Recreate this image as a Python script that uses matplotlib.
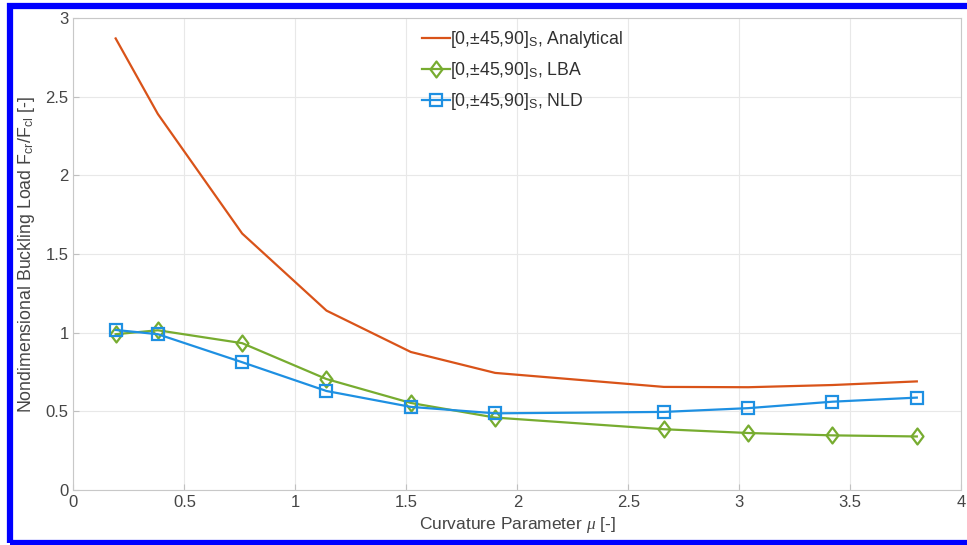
import matplotlib
matplotlib.use("Agg")
import matplotlib.pyplot as plt
from matplotlib.patches import Rectangle
from matplotlib.path import Path

mu = [0.19, 0.38, 0.76, 1.14, 1.52, 1.90, 2.66, 3.04, 3.42, 3.80]
analytical = [2.87, 2.39, 1.63, 1.14, 0.877, 0.744, 0.655, 0.653, 0.667, 0.69]
lba = [0.99, 1.015, 0.933, 0.705, 0.553, 0.46, 0.386, 0.362, 0.347, 0.34]
nld = [1.017, 0.99, 0.812, 0.629, 0.528, 0.487, 0.496, 0.52, 0.561, 0.587]

labels = [r"[0,$\pm$45,90]$_\mathrm{S}$, Analytical",
          r"[0,$\pm$45,90]$_\mathrm{S}$, LBA",
          r"[0,$\pm$45,90]$_\mathrm{S}$, NLD"]
xticks = [0, 0.5, 1, 1.5, 2, 2.5, 3, 3.5, 4]
yticks = [0, 0.5, 1, 1.5, 2, 2.5, 3]

plt.rcParams['font.family'] = ['Liberation Sans', 'DejaVu Sans']
plt.rcParams['mathtext.fontset'] = 'custom'
plt.rcParams['mathtext.rm'] = 'Liberation Sans'
plt.rcParams['mathtext.it'] = 'Liberation Serif:italic'
plt.rcParams['mathtext.bf'] = 'Liberation Sans:bold'

fig = plt.figure(figsize=(9.67, 5.45), dpi=100)
ax = fig.add_axes([0.076, 0.101, 0.918, 0.866])

c_an = '#D95319'
c_lba = '#77AC30'
c_nld = '#1E90E2'

diamond = Path([(0, 1), (0.75, 0), (0, -1), (-0.75, 0), (0, 1)],
               [Path.MOVETO, Path.LINETO, Path.LINETO, Path.LINETO, Path.CLOSEPOLY])

ax.plot(mu, analytical, color=c_an, lw=1.6, label=labels[0])
ax.plot(mu, lba, color=c_lba, lw=1.6, marker=diamond, ms=11.5, mfc='none', mew=1.6, label=labels[1])
ax.plot(mu, nld, color=c_nld, lw=1.6, marker='s', ms=8, mfc='none', mew=1.6, label=labels[2])

ax.set_xlim(0, 4)
ax.set_ylim(0, 3)
ax.set_xticks(xticks)
ax.set_xticklabels([f"{v:g}" for v in xticks])
ax.set_yticks(yticks)
ax.set_yticklabels([f"{v:g}" for v in yticks])
ax.grid(True, color='#e8e8e8', lw=0.8)
ax.set_axisbelow(True)
for s in ax.spines.values():
    s.set_color('#c8c8c8')
    s.set_linewidth(0.8)
ax.tick_params(direction='in', length=4, colors='#c0c0c0', labelcolor='#454545', labelsize=12,
               top=False, right=False)
ax.set_xlabel(r"Curvature Parameter $\mathit{\mu}$ [-]", fontsize=12.5, color='#454545', labelpad=4)
ax.set_ylabel(r"Nondimensional Buckling Load F$_\mathrm{cr}$/F$_\mathrm{cl}$ [-]", fontsize=12.8,
              color='#454545', labelpad=6)

leg = ax.legend(loc='upper left', bbox_to_anchor=(0.38, 1.0), frameon=False, fontsize=12.7,
                handlelength=1.55, handletextpad=0.0, labelspacing=0.55, borderaxespad=0.25)
for t in leg.get_texts():
    t.set_color('#303030')

fig.patches.append(Rectangle((9.5 / 967, 2.5 / 545), 1.0, 1 - 8.5 / 545, transform=fig.transFigure,
                             fill=False, edgecolor='#0000FF', lw=4.5, zorder=10, clip_on=False))

fig.savefig('out.png', dpi=100)
